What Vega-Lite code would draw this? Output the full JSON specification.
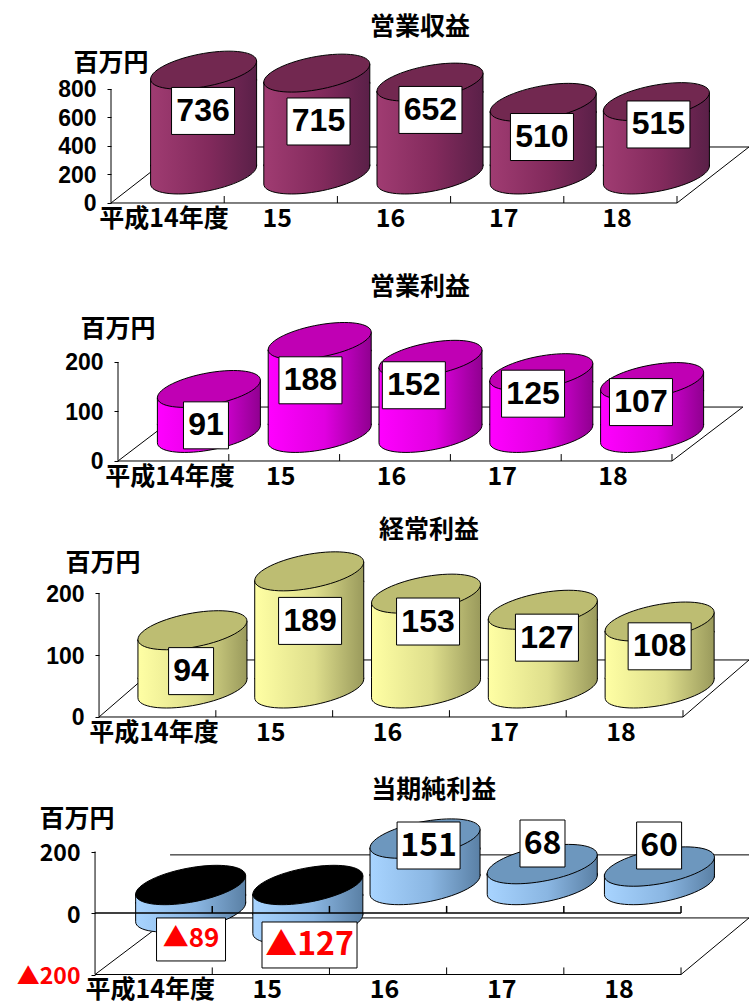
{"$schema":"https://vega.github.io/schema/vega-lite/v6.json","padding":0,"spacing":0,"bounds":"flush","background":"white","config":{"view":{"stroke":null},"font":"Noto Sans CJK JP"},
"resolve":{"scale":{"shape":"independent"}},
"datasets":{
"p1":[{"i":0,"value":736,"label":"736","li":0.313,"lv":646},{"i":1,"value":715,"label":"715","li":1.333,"lv":572},{"i":2,"value":652,"label":"652","li":2.322,"lv":653},{"i":3,"value":510,"label":"510","li":3.307,"lv":463},{"i":4,"value":515,"label":"515","li":4.336,"lv":551}],
"p1s":[{"x":-0.5,"y":0,"x2":4.5,"y2":0},{"x":-0.5,"y":0,"x2":-0.5,"y2":800},{"x":-0.5,"y":0,"x2":0.136,"y2":393},{"x":0.136,"y":393,"x2":5.136,"y2":393},{"x":4.5,"y":0,"x2":5.136,"y2":393},{"x":0.5,"y":0,"x2":0.5,"y2":49},{"x":1.5,"y":0,"x2":1.5,"y2":49},{"x":2.5,"y":0,"x2":2.5,"y2":49},{"x":3.5,"y":0,"x2":3.5,"y2":49},{"x":4.5,"y":0,"x2":4.5,"y2":49}],
"p1n":[{"t":"営業収益","x":2.23,"y":1235},{"t":"百万円","x":-0.5,"y":982}],
"p2":[{"i":0,"value":91,"label":"91","li":0.294,"lv":72},{"i":1,"value":188,"label":"188","li":1.237,"lv":163},{"i":2,"value":152,"label":"152","li":2.17,"lv":153},{"i":3,"value":125,"label":"125","li":3.246,"lv":136},{"i":4,"value":107,"label":"107","li":4.22,"lv":119}],
"p2s":[{"x":-0.5,"y":0,"x2":4.5,"y2":0},{"x":-0.5,"y":0,"x2":-0.5,"y2":200},{"x":-0.5,"y":0,"x2":0.14,"y2":109},{"x":0.14,"y":109,"x2":5.14,"y2":109},{"x":4.5,"y":0,"x2":5.14,"y2":109},{"x":0.5,"y":0,"x2":0.5,"y2":14},{"x":1.5,"y":0,"x2":1.5,"y2":14},{"x":2.5,"y":0,"x2":2.5,"y2":14},{"x":3.5,"y":0,"x2":3.5,"y2":14},{"x":4.5,"y":0,"x2":4.5,"y2":14}],
"p2n":[{"t":"営業利益","x":2.226,"y":351.5},{"t":"百万円","x":-0.5,"y":267}],
"p3":[{"i":0,"value":94,"label":"94","li":0.288,"lv":74},{"i":1,"value":189,"label":"189","li":1.307,"lv":155},{"i":2,"value":153,"label":"153","li":2.317,"lv":154},{"i":3,"value":127,"label":"127","li":3.335,"lv":128},{"i":4,"value":108,"label":"108","li":4.3,"lv":114}],
"p3s":[{"x":-0.5,"y":0,"x2":4.5,"y2":0},{"x":-0.5,"y":0,"x2":-0.5,"y2":200},{"x":-0.5,"y":0,"x2":0.065,"y2":92},{"x":0.065,"y":92,"x2":5.065,"y2":92},{"x":4.5,"y":0,"x2":5.065,"y2":92},{"x":0.5,"y":0,"x2":0.5,"y2":11},{"x":1.5,"y":0,"x2":1.5,"y2":11},{"x":2.5,"y":0,"x2":2.5,"y2":11},{"x":3.5,"y":0,"x2":3.5,"y2":11},{"x":4.5,"y":0,"x2":4.5,"y2":11}],
"p3n":[{"t":"経常利益","x":2.325,"y":301.6},{"t":"百万円","x":-0.466,"y":248}],
"p4":[{"i":0,"value":-89,"top":0,"base":-89,"label":"▲89","li":0.319,"lv":-86},{"i":1,"value":-127,"top":0,"base":-127,"label":"▲127","li":1.33,"lv":-104},{"i":2,"value":151,"top":151,"base":0,"label":"151","li":2.346,"lv":219.5},{"i":3,"value":68,"top":68,"base":0,"label":"68","li":3.318,"lv":226},{"i":4,"value":60,"top":60,"base":0,"label":"60","li":4.313,"lv":219.5}],
"p4s":[{"x":-0.5,"y":-200,"x2":4.5,"y2":-200},{"x":-0.5,"y":-200,"x2":-0.5,"y2":200},{"x":-0.5,"y":-200,"x2":0.14,"y2":-16},{"x":0.14,"y":-16,"x2":5.08,"y2":-16},{"x":0.14,"y":189,"x2":5.08,"y2":189},{"x":4.5,"y":-200,"x2":5.08,"y2":-16},{"x":0.5,"y":-200,"x2":0.5,"y2":-177},{"x":1.5,"y":-200,"x2":1.5,"y2":-177},{"x":2.5,"y":-200,"x2":2.5,"y2":-177},{"x":3.5,"y":-200,"x2":3.5,"y2":-177},{"x":4.5,"y":-200,"x2":4.5,"y2":-177}],
"p4z":[{"x":-0.5,"y":0,"x2":4.5,"y2":0},{"x":0.5,"y":0,"x2":0.5,"y2":23},{"x":1.5,"y":0,"x2":1.5,"y2":23},{"x":2.5,"y":0,"x2":2.5,"y2":23},{"x":3.5,"y":0,"x2":3.5,"y2":23},{"x":4.5,"y":0,"x2":4.5,"y2":23}],
"p4n":[{"t":"当期純利益","x":2.39,"y":400},{"t":"百万円","x":-0.654,"y":306}]
},
"vconcat":[
{"width":749,"height":252,"layer":[
{"data":{"name":"p1s"},"mark":{"type":"rule","color":"black","strokeWidth":1},"encoding":{"x":{"field":"x","type":"quantitative","scale":{"domain":[-1.4806,5.136],"nice":false,"zero":false,"padding":0},"axis":{"title":null,"values":[0,1,2,3,4],"grid":false,"domain":false,"ticks":false,"offset":-49,"labelPadding":3,"labelOffset":-4,"labelFontSize":25,"labelFontWeight":"bold","labelColor":"black","labelFlush":false,"labelOverlap":false,"labelExpr":"datum.value==0?'平成14年度':''+(14+datum.value)"}},"y":{"field":"y","type":"quantitative","scale":{"domain":[-343.86,1424.56],"nice":false,"zero":false,"padding":0},"axis":{"title":null,"values":[0,200,400,600,800],"grid":false,"domain":false,"offset":-111,"tickSize":4,"tickColor":"black","labelPadding":11,"labelOffset":1,"labelFontSize":23,"labelFontWeight":"bold","labelColor":"black","labelFont":"Liberation Sans"}},"x2":{"field":"x2"},"y2":{"field":"y2"}}},
{"data":{"name":"p1"},"mark":{"type":"bar","orient":"vertical","width":106,"xOffset":36,"yOffset":-19,"y2Offset":-37,"stroke":"black","strokeWidth":1,"fill":{"gradient":"linear","x1":0,"y1":0,"x2":1,"y2":0,"stops":[{"offset":0,"color":"#A03C72"},{"offset":0.55,"color":"#822A5C"},{"offset":1,"color":"#5A2048"}]}},"encoding":{"x":{"field":"i","type":"quantitative"},"y":{"field":"value","type":"quantitative"},"y2":{"datum":0}}},
{"data":{"name":"p1"},"mark":{"type":"point","filled":true,"opacity":1,"size":11236,"xOffset":36,"yOffset":-28,"shape":"M1,0.2L1,-0.17L-1,0.17L-1,0.2","stroke":"black","strokeWidth":1,"fill":{"gradient":"linear","x1":0,"y1":0,"x2":1,"y2":0,"stops":[{"offset":0,"color":"#A03C72"},{"offset":0.55,"color":"#822A5C"},{"offset":1,"color":"#5A2048"}]}},"encoding":{"x":{"field":"i","type":"quantitative"},"y":{"field":"value","type":"quantitative"}}},
{"data":{"name":"p1"},"mark":{"type":"point","filled":true,"opacity":1,"size":11236,"xOffset":36,"yOffset":-28,"shape":"M-1,-0.2L-1,0.17C-1,0.344,-0.552,0.409,0,0.315C0.552,0.221,1,0.004,1,-0.17L1,-0.2","stroke":"black","strokeWidth":1,"fill":{"gradient":"linear","x1":0,"y1":0,"x2":1,"y2":0,"stops":[{"offset":0,"color":"#A03C72"},{"offset":0.55,"color":"#822A5C"},{"offset":1,"color":"#5A2048"}]}},"encoding":{"x":{"field":"i","type":"quantitative"},"y":{"datum":0}}},
{"data":{"name":"p1"},"mark":{"type":"point","filled":true,"opacity":1,"size":11236,"xOffset":36,"yOffset":-28,"shape":"M1,-0.17C1,0.004,0.552,0.221,0,0.315C-0.552,0.409,-1,0.344,-1,0.17C-1,-0.004,-0.552,-0.221,0,-0.315C0.552,-0.409,1,-0.344,1,-0.17Z","stroke":"black","strokeWidth":1,"fill":"#722850"},"encoding":{"x":{"field":"i","type":"quantitative"},"y":{"field":"value","type":"quantitative"}}},
{"data":{"name":"p1"},"mark":{"type":"point","filled":true,"opacity":1,"size":3969,"shape":"M-1,-0.746H1V0.746H-1Z","fill":"white","stroke":"black","strokeWidth":1},"encoding":{"x":{"field":"li","type":"quantitative"},"y":{"field":"lv","type":"quantitative"}}},
{"data":{"name":"p1"},"mark":{"type":"text","font":"Liberation Sans","fontWeight":"bold","fontSize":32,"baseline":"middle","align":"center","color":"black"},"encoding":{"x":{"field":"li","type":"quantitative"},"y":{"field":"lv","type":"quantitative"},"text":{"field":"label"}}},
{"data":{"name":"p1n"},"mark":{"type":"text","fontWeight":"bold","fontSize":25,"baseline":"middle","align":"center","color":"black"},"encoding":{"x":{"field":"x","type":"quantitative"},"y":{"field":"y","type":"quantitative"},"text":{"field":"t"}}}
]},
{"width":749,"height":251,"layer":[
{"data":{"name":"p2s"},"mark":{"type":"rule","color":"black","strokeWidth":1},"encoding":{"x":{"field":"x","type":"quantitative","scale":{"domain":[-1.565,5.195],"nice":false,"zero":false,"padding":0},"axis":{"title":null,"values":[0,1,2,3,4],"grid":false,"domain":false,"ticks":false,"offset":-42,"labelPadding":3,"labelOffset":-4,"labelFontSize":25,"labelFontWeight":"bold","labelColor":"black","labelFlush":false,"labelOverlap":false,"labelExpr":"datum.value==0?'平成14年度':''+(14+datum.value)"}},"y":{"field":"y","type":"quantitative","scale":{"domain":[-84.85,422.2],"nice":false,"zero":false,"padding":0},"axis":{"title":null,"values":[0,100,200],"grid":false,"domain":false,"offset":-118,"tickSize":4,"tickColor":"black","labelPadding":11,"labelOffset":1,"labelFontSize":23,"labelFontWeight":"bold","labelColor":"black","labelFont":"Liberation Sans"}},"x2":{"field":"x2"},"y2":{"field":"y2"}}},
{"data":{"name":"p2"},"mark":{"type":"bar","orient":"vertical","width":103,"xOffset":35.5,"yOffset":-18,"y2Offset":-36,"stroke":"black","strokeWidth":1,"fill":{"gradient":"linear","x1":0,"y1":0,"x2":1,"y2":0,"stops":[{"offset":0,"color":"#FF00FF"},{"offset":0.55,"color":"#E000E0"},{"offset":1,"color":"#900090"}]}},"encoding":{"x":{"field":"i","type":"quantitative"},"y":{"field":"value","type":"quantitative"},"y2":{"datum":0}}},
{"data":{"name":"p2"},"mark":{"type":"point","filled":true,"opacity":1,"size":10609,"xOffset":35.5,"yOffset":-27,"shape":"M1,0.2L1,-0.17L-1,0.17L-1,0.2","stroke":"black","strokeWidth":1,"fill":{"gradient":"linear","x1":0,"y1":0,"x2":1,"y2":0,"stops":[{"offset":0,"color":"#FF00FF"},{"offset":0.55,"color":"#E000E0"},{"offset":1,"color":"#900090"}]}},"encoding":{"x":{"field":"i","type":"quantitative"},"y":{"field":"value","type":"quantitative"}}},
{"data":{"name":"p2"},"mark":{"type":"point","filled":true,"opacity":1,"size":10609,"xOffset":35.5,"yOffset":-27,"shape":"M-1,-0.2L-1,0.17C-1,0.344,-0.552,0.409,0,0.315C0.552,0.221,1,0.004,1,-0.17L1,-0.2","stroke":"black","strokeWidth":1,"fill":{"gradient":"linear","x1":0,"y1":0,"x2":1,"y2":0,"stops":[{"offset":0,"color":"#FF00FF"},{"offset":0.55,"color":"#E000E0"},{"offset":1,"color":"#900090"}]}},"encoding":{"x":{"field":"i","type":"quantitative"},"y":{"datum":0}}},
{"data":{"name":"p2"},"mark":{"type":"point","filled":true,"opacity":1,"size":10609,"xOffset":35.5,"yOffset":-27,"shape":"M1,-0.17C1,0.004,0.552,0.221,0,0.315C-0.552,0.409,-1,0.344,-1,0.17C-1,-0.004,-0.552,-0.221,0,-0.315C0.552,-0.409,1,-0.344,1,-0.17Z","stroke":"black","strokeWidth":1,"fill":"#C000B4"},"encoding":{"x":{"field":"i","type":"quantitative"},"y":{"field":"value","type":"quantitative"}}},
{"data":{"name":"p2"},"mark":{"type":"point","filled":true,"opacity":1,"size":3969,"fill":"white","stroke":"black","strokeWidth":1},"encoding":{"x":{"field":"li","type":"quantitative"},"y":{"field":"lv","type":"quantitative"},"shape":{"field":"label","type":"nominal","legend":null,"scale":{"domain":["91","188","152","125","107"],"range":["M-0.714,-0.746H0.714V0.746H-0.714Z","M-1,-0.746H1V0.746H-1Z","M-1,-0.746H1V0.746H-1Z","M-1,-0.746H1V0.746H-1Z","M-1,-0.746H1V0.746H-1Z"]}}}},
{"data":{"name":"p2"},"mark":{"type":"text","font":"Liberation Sans","fontWeight":"bold","fontSize":32,"baseline":"middle","align":"center","color":"black"},"encoding":{"x":{"field":"li","type":"quantitative"},"y":{"field":"lv","type":"quantitative"},"text":{"field":"label"}}},
{"data":{"name":"p2n"},"mark":{"type":"text","fontWeight":"bold","fontSize":25,"baseline":"middle","align":"center","color":"black"},"encoding":{"x":{"field":"x","type":"quantitative"},"y":{"field":"y","type":"quantitative"},"text":{"field":"t"}}}
]},
{"width":749,"height":252,"layer":[
{"data":{"name":"p3s"},"mark":{"type":"rule","color":"black","strokeWidth":1},"encoding":{"x":{"field":"x","type":"quantitative","scale":{"domain":[-1.348,5.065],"nice":false,"zero":false,"padding":0},"axis":{"title":null,"values":[0,1,2,3,4],"grid":false,"domain":false,"ticks":false,"offset":-38,"labelPadding":3,"labelOffset":-4,"labelFontSize":25,"labelFontWeight":"bold","labelColor":"black","labelFlush":false,"labelOverlap":false,"labelExpr":"datum.value==0?'平成14年度':''+(14+datum.value)"}},"y":{"field":"y","type":"quantitative","scale":{"domain":[-61.3,345.2],"nice":false,"zero":false,"padding":0},"axis":{"title":null,"values":[0,100,200],"grid":false,"domain":false,"offset":-99,"tickSize":4,"tickColor":"black","labelPadding":11,"labelOffset":1,"labelFontSize":23,"labelFontWeight":"bold","labelColor":"black","labelFont":"Liberation Sans"}},"x2":{"field":"x2"},"y2":{"field":"y2"}}},
{"data":{"name":"p3"},"mark":{"type":"bar","orient":"vertical","width":109,"xOffset":35,"yOffset":-19,"y2Offset":-38,"stroke":"black","strokeWidth":1,"fill":{"gradient":"linear","x1":0,"y1":0,"x2":1,"y2":0,"stops":[{"offset":0,"color":"#FFFFA4"},{"offset":0.55,"color":"#DEDE8C"},{"offset":1,"color":"#9A9A5C"}]}},"encoding":{"x":{"field":"i","type":"quantitative"},"y":{"field":"value","type":"quantitative"},"y2":{"datum":0}}},
{"data":{"name":"p3"},"mark":{"type":"point","filled":true,"opacity":1,"size":11881,"xOffset":35,"yOffset":-28.5,"shape":"M1,0.2L1,-0.17L-1,0.17L-1,0.2","stroke":"black","strokeWidth":1,"fill":{"gradient":"linear","x1":0,"y1":0,"x2":1,"y2":0,"stops":[{"offset":0,"color":"#FFFFA4"},{"offset":0.55,"color":"#DEDE8C"},{"offset":1,"color":"#9A9A5C"}]}},"encoding":{"x":{"field":"i","type":"quantitative"},"y":{"field":"value","type":"quantitative"}}},
{"data":{"name":"p3"},"mark":{"type":"point","filled":true,"opacity":1,"size":11881,"xOffset":35,"yOffset":-28.5,"shape":"M-1,-0.2L-1,0.17C-1,0.344,-0.552,0.409,0,0.315C0.552,0.221,1,0.004,1,-0.17L1,-0.2","stroke":"black","strokeWidth":1,"fill":{"gradient":"linear","x1":0,"y1":0,"x2":1,"y2":0,"stops":[{"offset":0,"color":"#FFFFA4"},{"offset":0.55,"color":"#DEDE8C"},{"offset":1,"color":"#9A9A5C"}]}},"encoding":{"x":{"field":"i","type":"quantitative"},"y":{"datum":0}}},
{"data":{"name":"p3"},"mark":{"type":"point","filled":true,"opacity":1,"size":11881,"xOffset":35,"yOffset":-28.5,"shape":"M1,-0.17C1,0.004,0.552,0.221,0,0.315C-0.552,0.409,-1,0.344,-1,0.17C-1,-0.004,-0.552,-0.221,0,-0.315C0.552,-0.409,1,-0.344,1,-0.17Z","stroke":"black","strokeWidth":1,"fill":"#BDBD72"},"encoding":{"x":{"field":"i","type":"quantitative"},"y":{"field":"value","type":"quantitative"}}},
{"data":{"name":"p3"},"mark":{"type":"point","filled":true,"opacity":1,"size":3969,"fill":"white","stroke":"black","strokeWidth":1},"encoding":{"x":{"field":"li","type":"quantitative"},"y":{"field":"lv","type":"quantitative"},"shape":{"field":"label","type":"nominal","legend":null,"scale":{"domain":["94","189","153","127","108"],"range":["M-0.714,-0.746H0.714V0.746H-0.714Z","M-1,-0.746H1V0.746H-1Z","M-1,-0.746H1V0.746H-1Z","M-1,-0.746H1V0.746H-1Z","M-1,-0.746H1V0.746H-1Z"]}}}},
{"data":{"name":"p3"},"mark":{"type":"text","font":"Liberation Sans","fontWeight":"bold","fontSize":32,"baseline":"middle","align":"center","color":"black"},"encoding":{"x":{"field":"li","type":"quantitative"},"y":{"field":"lv","type":"quantitative"},"text":{"field":"label"}}},
{"data":{"name":"p3n"},"mark":{"type":"text","fontWeight":"bold","fontSize":25,"baseline":"middle","align":"center","color":"black"},"encoding":{"x":{"field":"x","type":"quantitative"},"y":{"field":"y","type":"quantitative"},"text":{"field":"t"}}}
]},
{"width":749,"height":251,"layer":[
{"data":{"name":"p4s"},"mark":{"type":"rule","color":"black","strokeWidth":1},"encoding":{"x":{"field":"x","type":"quantitative","scale":{"domain":[-1.311,5.08],"nice":false,"zero":false,"padding":0},"axis":{"title":null,"values":[0,1,2,3,4],"grid":false,"domain":false,"ticks":false,"offset":-31.5,"labelPadding":3,"labelOffset":-4,"labelFontSize":25,"labelFontWeight":"bold","labelColor":"black","labelFlush":false,"labelOverlap":false,"labelExpr":"datum.value==0?'平成14年度':''+(14+datum.value)"}},"y":{"field":"y","type":"quantitative","scale":{"domain":[-302.4,513.8],"nice":false,"zero":false,"padding":0},"axis":{"title":null,"values":[-200,0,200],"grid":false,"domain":false,"offset":-95,"tickSize":4,"tickColor":"black","labelPadding":11,"labelOffset":2,"labelFontSize":23,"labelFontWeight":"bold","labelFont":"Noto Sans CJK JP","labelExpr":"datum.value<0?'▲'+abs(datum.value):datum.label","labelColor":{"condition":{"test":"datum.value<0","value":"red"},"value":"black"}}},"x2":{"field":"x2"},"y2":{"field":"y2"}}},
{"data":{"name":"p4"},"mark":{"type":"bar","orient":"vertical","width":110,"xOffset":37,"yOffset":-19,"y2Offset":-37,"stroke":"black","strokeWidth":1,"fill":{"gradient":"linear","x1":0,"y1":0,"x2":1,"y2":0,"stops":[{"offset":0,"color":"#A8D4FF"},{"offset":0.55,"color":"#8AB6E2"},{"offset":1,"color":"#5A80A5"}]}},"encoding":{"x":{"field":"i","type":"quantitative"},"y":{"field":"top","type":"quantitative"},"y2":{"field":"base"}}},
{"data":{"name":"p4"},"mark":{"type":"point","filled":true,"opacity":1,"size":12100,"xOffset":37,"yOffset":-28,"shape":"M1,0.2L1,-0.17L-1,0.17L-1,0.2","stroke":"black","strokeWidth":1,"fill":{"gradient":"linear","x1":0,"y1":0,"x2":1,"y2":0,"stops":[{"offset":0,"color":"#A8D4FF"},{"offset":0.55,"color":"#8AB6E2"},{"offset":1,"color":"#5A80A5"}]}},"encoding":{"x":{"field":"i","type":"quantitative"},"y":{"field":"top","type":"quantitative"}}},
{"data":{"name":"p4"},"mark":{"type":"point","filled":true,"opacity":1,"size":12100,"xOffset":37,"yOffset":-28,"shape":"M-1,-0.2L-1,0.17C-1,0.344,-0.552,0.409,0,0.315C0.552,0.221,1,0.004,1,-0.17L1,-0.2","stroke":"black","strokeWidth":1,"fill":{"gradient":"linear","x1":0,"y1":0,"x2":1,"y2":0,"stops":[{"offset":0,"color":"#A8D4FF"},{"offset":0.55,"color":"#8AB6E2"},{"offset":1,"color":"#5A80A5"}]}},"encoding":{"x":{"field":"i","type":"quantitative"},"y":{"field":"base","type":"quantitative"}}},
{"data":{"name":"p4"},"mark":{"type":"point","filled":true,"opacity":1,"size":12100,"xOffset":37,"yOffset":-28,"shape":"M1,-0.17C1,0.004,0.552,0.221,0,0.315C-0.552,0.409,-1,0.344,-1,0.17C-1,-0.004,-0.552,-0.221,0,-0.315C0.552,-0.409,1,-0.344,1,-0.17Z","stroke":"black","strokeWidth":1},"encoding":{"x":{"field":"i","type":"quantitative"},"y":{"field":"top","type":"quantitative"},"fill":{"condition":{"test":"datum.value<0","value":"black"},"value":"#6D97BE"}}},
{"data":{"name":"p4z"},"mark":{"type":"rule","color":"black","strokeWidth":1.5},"encoding":{"x":{"field":"x","type":"quantitative"},"y":{"field":"y","type":"quantitative"},"x2":{"field":"x2"},"y2":{"field":"y2"}}},
{"data":{"name":"p4"},"mark":{"type":"point","filled":true,"opacity":1,"size":3969,"fill":"white","stroke":"black","strokeWidth":1},"encoding":{"x":{"field":"li","type":"quantitative"},"y":{"field":"lv","type":"quantitative"},"shape":{"field":"label","type":"nominal","legend":null,"scale":{"domain":["▲89","▲127","151","68","60"],"range":["M-1.095,-0.683H1.095V0.683H-1.095Z","M-1.508,-0.73H1.508V0.73H-1.508Z","M-1,-0.746H1V0.746H-1Z","M-0.714,-0.746H0.714V0.746H-0.714Z","M-0.714,-0.746H0.714V0.746H-0.714Z"]}}}},
{"data":{"name":"p4"},"mark":{"type":"text","font":"Noto Sans CJK JP","fontWeight":"bold","baseline":"middle","align":"center"},"encoding":{"x":{"field":"li","type":"quantitative"},"y":{"field":"lv","type":"quantitative"},"text":{"field":"label"},"size":{"condition":{"test":"datum.label=='▲89'","value":26},"value":32},"color":{"condition":{"test":"datum.value<0","value":"#FF0000"},"value":"black"}}},
{"data":{"name":"p4n"},"mark":{"type":"text","fontWeight":"bold","fontSize":25,"baseline":"middle","align":"center","color":"black"},"encoding":{"x":{"field":"x","type":"quantitative"},"y":{"field":"y","type":"quantitative"},"text":{"field":"t"}}}
]}
]}
